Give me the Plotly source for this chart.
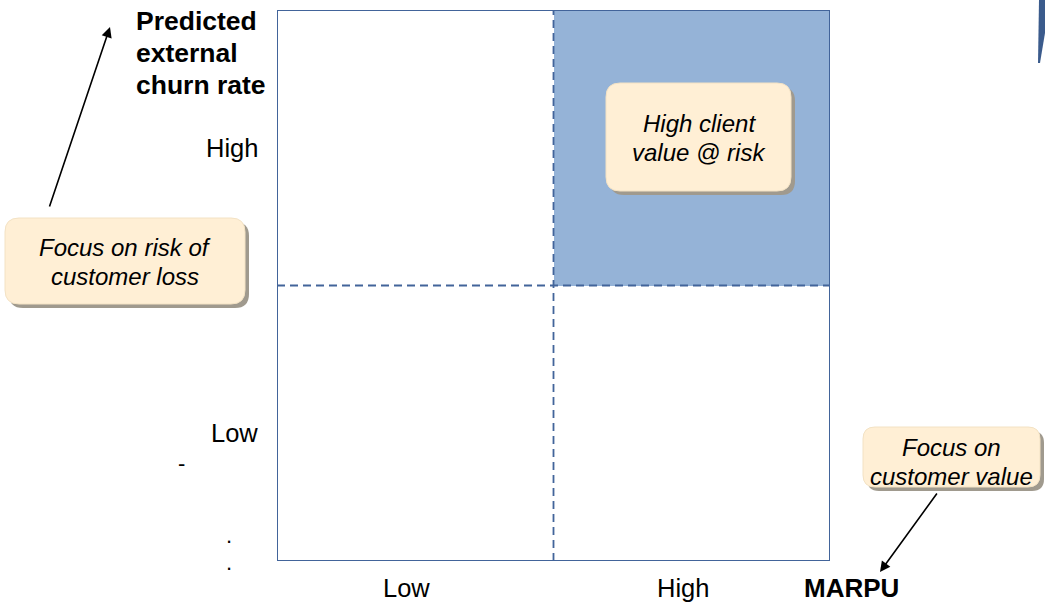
import plotly.graph_objects as go

# Matrix categories and the highlighted segment
marpu_levels = ["Low", "High"]          # x: MARPU
churn_levels = ["Low", "High"]          # y: predicted external churn rate
highlight = [[0, 0],                    # rows: churn Low / High
             [0, 1]]                    # cols: MARPU Low / High

x_title = "MARPU"
y_title = ["Predicted", "external", "churn rate"]
cell_note = ["High client", "value @ risk"]
churn_note = ["Focus on risk of", "customer loss"]
value_note = ["Focus on", "customer value"]

W, H = 1045, 602
FONT = "Liberation Sans, Arial, sans-serif"
EDGE = "#42649A"
FILL = "#95B3D7"
CREAM = "#FFEFD5"
SHADOW = "#A09A8E"

fig = go.Figure()

# quadrant fill from the highlight matrix
fig.add_trace(go.Heatmap(
    x=[0.5, 1.5], y=[0.5, 1.5], z=highlight,
    zmin=0, zmax=1,
    colorscale=[[0, "rgba(255,255,255,0)"], [1, FILL]],
    showscale=False, hoverinfo="skip",
    xaxis="x", yaxis="y",
))

# invisible trace to activate the pixel-space overlay axes
fig.add_trace(go.Scatter(x=[0], y=[0], mode="markers", marker=dict(opacity=0),
                         hoverinfo="skip", showlegend=False, xaxis="x2", yaxis="y2"))

shapes = []

# outer border and dashed dividers of the matrix
shapes.append(dict(type="rect", xref="x", yref="y", x0=0, x1=2, y0=0, y1=2,
                   line=dict(color=EDGE, width=2), layer="above"))
shapes.append(dict(type="line", xref="x", yref="y", x0=1, x1=1, y0=0, y1=2,
                   line=dict(color=EDGE, width=1.8, dash="8px,5px"), layer="above"))
shapes.append(dict(type="line", xref="x", yref="y", x0=0, x1=2, y0=1, y1=1,
                   line=dict(color=EDGE, width=1.8, dash="8px,5px"), layer="above"))


def rounded(x0, y0, x1, y1, r):
    return (f"M{x0+r},{y0} L{x1-r},{y0} Q{x1},{y0} {x1},{y0+r} "
            f"L{x1},{y1-r} Q{x1},{y1} {x1-r},{y1} L{x0+r},{y1} "
            f"Q{x0},{y1} {x0},{y1-r} L{x0},{y0+r} Q{x0},{y0} {x0+r},{y0} Z")


def callout(x0, y0, x1, y1, r=14, off=4):
    shapes.append(dict(type="path", xref="x2", yref="y2",
                       path=rounded(x0 + off, y0 + off, x1 + off, y1 + off, r),
                       fillcolor=SHADOW, line=dict(width=0), layer="above"))
    shapes.append(dict(type="path", xref="x2", yref="y2",
                       path=rounded(x0, y0, x1, y1, r),
                       fillcolor=CREAM, line=dict(color="#F3E2C4", width=1), layer="above"))


callout(606, 83, 791, 191)
callout(5, 218, 245, 304)
callout(863, 427, 1040, 487, r=12)

# sliver of a shape at the top-right edge
shapes.append(dict(type="path", xref="x2", yref="y2",
                   path="M1039,0 L1045,0 L1045,33 L1040,63 L1038,63 Z",
                   fillcolor="#3B5B8C", line=dict(width=0), layer="above"))

ann = []


def text_line(x, y, t, size, xanchor="center", **kw):
    ann.append(dict(xref="x2", yref="y2", x=x, y=y, text=t, showarrow=False,
                    xanchor=xanchor, yanchor="middle",
                    font=dict(family=FONT, size=size, color="black"), **kw))


# axis titles
for k, line in enumerate(y_title):
    text_line(134, 21 + 32 * k, f"<b>{line}</b>", 26.5, xanchor="left")
text_line(802, 588, f"<b>{x_title}</b>", 26, xanchor="left")

# category labels
for i, lab in enumerate(marpu_levels):
    ann.append(dict(xref="x", yref="y2", x=i + 0.5, y=588, text=lab, xshift=-9,
                    showarrow=False, xanchor="center", yanchor="middle",
                    font=dict(family=FONT, size=25.5, color="black")))
y_shift = {"Low": -10, "High": 0}
for i, lab in enumerate(churn_levels):
    ann.append(dict(xref="x2", yref="y", x=260, y=i + 0.5, text=lab, yshift=y_shift[lab],
                    showarrow=False, xanchor="right", yanchor="middle",
                    font=dict(family=FONT, size=25.5, color="black")))

# stray marks beside the churn axis
for tx, ty, t in [(181, 463, "-"), (229, 535, "."), (229, 562, ".")]:
    text_line(tx, ty, t, 22)

# callout texts
for cx, cy, lines in [(699, 123, cell_note), (125, 247, churn_note), (951, 447, value_note)]:
    for k, line in enumerate(lines):
        text_line(cx, cy + 29 * k, f"<i>{line}</i>", 24)

# pointer arrows
for (tx, ty), (hx, hy) in [((49, 208), (110, 27)), ((938, 492), (880, 572))]:
    ann.append(dict(xref="x2", yref="y2", axref="x2", ayref="y2",
                    x=hx, y=hy, ax=tx, ay=ty, text="", showarrow=True,
                    arrowhead=2, arrowsize=1.3, arrowwidth=1.6, arrowcolor="black"))

fig.update_layout(
    width=W, height=H,
    margin=dict(l=0, r=0, t=0, b=0),
    paper_bgcolor="white", plot_bgcolor="rgba(0,0,0,0)",
    showlegend=False,
    xaxis=dict(domain=[277 / W, 830 / W], range=[0, 2], visible=False, fixedrange=True),
    yaxis=dict(domain=[(H - 561) / H, (H - 10) / H], range=[0, 2], visible=False, fixedrange=True),
    xaxis2=dict(domain=[0, 1], range=[0, W], visible=False, anchor="y2", fixedrange=True),
    yaxis2=dict(domain=[0, 1], range=[H, 0], visible=False, anchor="x2", fixedrange=True),
    shapes=shapes,
    annotations=ann,
)

fig.write_html("out.html")
